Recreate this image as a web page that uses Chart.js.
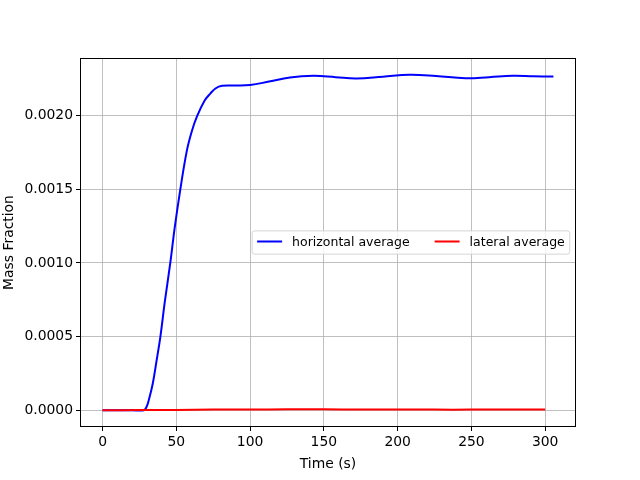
<!DOCTYPE html>
<html>
<head>
<meta charset="utf-8">
<script src="https://cdn.jsdelivr.net/npm/chart.js@4.4.1/dist/chart.umd.min.js"></script>
<style>
  html, body { margin: 0; padding: 0; background: #fff; }
  canvas { display: block; }
</style>
</head>
<body>
<canvas id="myChart" width="640" height="480"></canvas>
<script>
// horizontal average (blue)
let timeHorizontal = [0, 10, 20, 28, 29.7, 31.3, 34, 36.5, 39.2, 42.1, 45.9, 48.9, 52.7, 57.2, 60.5,
  64, 69.1, 73, 76.5, 81, 90, 100, 112, 127, 143, 158, 172, 190, 208, 226, 246, 262, 278, 292, 305.6];
let massHorizontal = [0, 0, 0, 0, 0.00002, 0.000068, 0.00018, 0.00033, 0.0005, 0.00073, 0.001,
  0.00124, 0.0015, 0.001766, 0.001895, 0.001995, 0.002101, 0.00215, 0.002185, 0.002203, 0.002205,
  0.002209, 0.00223, 0.00226, 0.002271, 0.002262, 0.002253, 0.002265, 0.002278, 0.00227, 0.002255,
  0.002262, 0.002271, 0.002268, 0.002266];

// lateral average (red)
let timeLateral = [0, 25, 50, 75, 100, 125, 150, 175, 200, 225, 250, 275, 300];
let massLateral = [0, 0.000001, 0.000002, 0.000004, 0.000005, 0.000006, 0.000006, 0.000005,
  0.000005, 0.000004, 0.000004, 0.000004, 0.000004];

let labels = ['horizontal average', 'lateral average'];
let colorHex = ['#0000FF', '#FF0000'];

let xTicks = [0, 50, 100, 150, 200, 250, 300];
let yTicks = [0, 0.0005, 0.001, 0.0015, 0.002];

const toPoints = (xs, ys) => xs.map((x, i) => ({ x: x, y: ys[i] }));

const font = { family: 'DejaVu Sans', size: 13.9 };

// matplotlib-like frame + legend inside the plot area (center right)
const framePlugin = {
  id: 'frame',
  afterDatasetsDraw(chart) {
    const { ctx, chartArea: a } = chart;
    ctx.save();
    ctx.strokeStyle = '#000';
    ctx.lineWidth = 1;
    ctx.strokeRect(Math.round(a.left) + 0.5, Math.round(a.top) + 0.5,
      Math.round(a.right - a.left) - 1, Math.round(a.bottom - a.top) - 1);

    // legend
    const fs = 12.5;
    const pad = 0.4 * fs, handle = 2 * fs, textPad = 0.8 * fs, colSpace = 2 * fs;
    ctx.font = fs + 'px "DejaVu Sans"';
    const sets = chart.data.datasets;
    const widths = sets.map(d => ctx.measureText(d.label).width);
    let w = pad * 2;
    widths.forEach((tw, i) => { w += handle + textPad + tw + (i > 0 ? colSpace : 0); });
    const h = 1.86 * fs;
    const right = a.right - 0.5 * fs;
    const left = right - w;
    const cy = (a.top + a.bottom) / 2;
    const top = cy - h / 2;
    ctx.beginPath();
    ctx.roundRect(left, top, w, h, 2.5);
    ctx.fillStyle = 'rgba(255,255,255,0.8)';
    ctx.fill();
    ctx.strokeStyle = 'rgba(204,204,204,0.8)';
    ctx.lineWidth = 1;
    ctx.stroke();
    let x = left + pad;
    sets.forEach((d, i) => {
      if (i > 0) x += colSpace;
      ctx.beginPath();
      ctx.moveTo(x, cy - 1);
      ctx.lineTo(x + handle, cy - 1);
      ctx.strokeStyle = d.borderColor;
      ctx.lineWidth = 2;
      ctx.stroke();
      x += handle + textPad;
      ctx.fillStyle = '#000';
      ctx.textBaseline = 'middle';
      ctx.textAlign = 'left';
      ctx.fillText(d.label, x, cy);
      x += widths[i];
    });
    ctx.restore();
  }
};

let ctx = document.getElementById('myChart').getContext('2d');

let myChart = new Chart(ctx, {
  type: 'line',
  data: {
    datasets: [{
      label: labels[0],
      data: toPoints(timeHorizontal, massHorizontal),
      borderColor: colorHex[0],
      backgroundColor: colorHex[0],
      borderWidth: 2,
      pointRadius: 0,
      tension: 0.4,
      order: 1
    }, {
      label: labels[1],
      data: toPoints(timeLateral, massLateral),
      borderColor: colorHex[1],
      backgroundColor: colorHex[1],
      borderWidth: 2,
      pointRadius: 0,
      tension: 0.4,
      order: 0
    }]
  },
  options: {
    responsive: false,
    animation: false,
    devicePixelRatio: 1,
    layout: { padding: { left: 0, right: 64, top: 58, bottom: 0 } },
    plugins: {
      legend: { display: false },
      tooltip: { enabled: false }
    },
    scales: {
      x: {
        type: 'linear',
        min: -15.3,
        max: 320.9,
        afterBuildTicks: (scale) => { scale.ticks = xTicks.map(v => ({ value: v })); },
        afterFit: (scale) => { scale.height = 53; },
        border: { display: false },
        grid: { color: '#b0b0b0', lineWidth: 0.8, tickColor: '#000', tickLength: 4, tickWidth: 1 },
        ticks: { color: '#000', font: font, padding: 3, maxRotation: 0, callback: v => String(v) },
        title: { display: true, text: 'Time (s)', color: '#000', font: font, padding: { top: 0, bottom: 7.7 } }
      },
      y: {
        type: 'linear',
        min: -0.000114,
        max: 0.002392,
        afterBuildTicks: (scale) => { scale.ticks = yTicks.map(v => ({ value: v })); },
        afterFit: (scale) => { scale.width = 80; },
        border: { display: false },
        grid: { color: '#b0b0b0', lineWidth: 0.8, tickColor: '#000', tickLength: 4, tickWidth: 1 },
        ticks: { color: '#000', font: font, padding: 3, callback: v => v.toFixed(4) },
        title: { display: true, text: 'Mass Fraction', color: '#000', font: font, padding: { top: 1.2, bottom: 0 } }
      }
    }
  },
  plugins: [framePlugin]
});
</script>
</body>
</html>
